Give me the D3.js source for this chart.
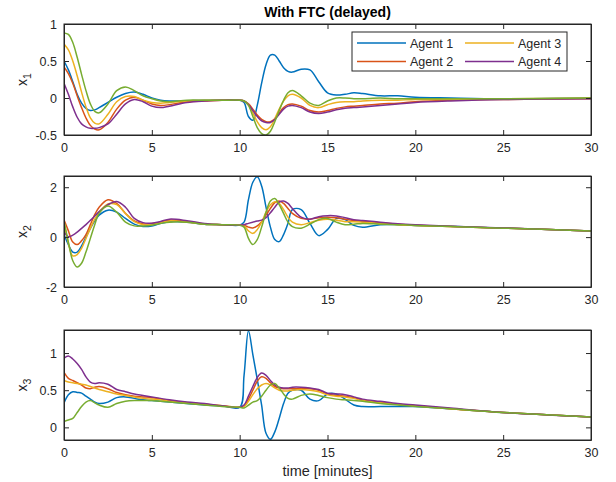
<!DOCTYPE html>
<html>
<head>
<meta charset="UTF-8">
<title>With FTC (delayed)</title>
<script src="https://cdnjs.cloudflare.com/ajax/libs/d3/7.8.5/d3.min.js"></script>
<style>
  body { margin: 0; background: #fff; }
  svg { font-family: "Liberation Sans", Arial, Helvetica, sans-serif; }
</style>
</head>
<body>
<div id="chart"></div>
<script>
// sample times (minutes)
const time = [0, 0.25, 0.5, 0.75, 1, 1.25, 1.5, 1.75, 2, 2.5, 3, 3.5, 4, 4.5, 5, 5.5, 6, 7, 8, 9, 10,
  10.25, 10.5, 10.75, 11, 11.25, 11.5, 11.75, 12, 12.25, 12.5, 12.75, 13, 13.5, 14, 14.5, 15, 15.5, 16, 16.5, 17,
  18, 19, 20, 22, 25, 30];

const agents = ["Agent 1", "Agent 2", "Agent 3", "Agent 4", "Agent 5"];
const legendAgents = ["Agent 1", "Agent 2", "Agent 3", "Agent 4"];

// x1
const x1a1 = [0.5, 0.38, 0.22, 0.05, -0.07, -0.14, -0.17, -0.16, -0.13, -0.06, 0.01, 0.06, 0.08, 0.05, 0.0, -0.03, -0.04, -0.04, -0.03, -0.03, -0.03,
  -0.06, -0.25, -0.3, -0.1, 0.2, 0.45, 0.58, 0.58, 0.5, 0.41, 0.36, 0.35, 0.39, 0.38, 0.22, 0.07, 0.04, 0.05, 0.07, 0.06,
  0.03, 0.03, 0.01, 0.0, -0.01, 0.0];
const x1a2 = [0.42, 0.33, 0.2, 0.03, -0.13, -0.27, -0.37, -0.42, -0.43, -0.33, -0.15, -0.03, 0.01, -0.03, -0.08, -0.1, -0.09, -0.05, -0.04, -0.03, -0.03,
  -0.04, -0.08, -0.15, -0.23, -0.29, -0.32, -0.32, -0.28, -0.2, -0.13, -0.09, -0.08, -0.11, -0.17, -0.19, -0.17, -0.14, -0.12, -0.11, -0.1,
  -0.08, -0.07, -0.05, -0.03, -0.02, -0.01];
const x1a3 = [0.73, 0.65, 0.5, 0.3, 0.08, -0.12, -0.27, -0.34, -0.35, -0.22, -0.05, 0.02, 0.02, -0.03, -0.06, -0.07, -0.06, -0.04, -0.03, -0.03, -0.03,
  -0.04, -0.09, -0.2, -0.32, -0.4, -0.43, -0.39, -0.28, -0.15, -0.04, 0.03, 0.05, 0.0, -0.1, -0.13, -0.09, -0.06, -0.05, -0.05, -0.04,
  -0.03, -0.03, -0.02, -0.02, -0.01, 0.0];
const x1a4 = [0.2, 0.05, -0.12, -0.26, -0.35, -0.39, -0.41, -0.41, -0.4, -0.35, -0.22, -0.08, -0.02, -0.05, -0.11, -0.13, -0.11, -0.06, -0.04, -0.03, -0.03,
  -0.04, -0.09, -0.17, -0.25, -0.31, -0.33, -0.33, -0.29, -0.22, -0.15, -0.11, -0.1, -0.13, -0.19, -0.21, -0.19, -0.16, -0.14, -0.13, -0.12,
  -0.1, -0.08, -0.06, -0.04, -0.02, -0.01];
const x1a5 = [0.88, 0.86, 0.75, 0.55, 0.32, 0.1, -0.08, -0.18, -0.2, -0.08, 0.1, 0.15, 0.1, 0.03, -0.01, -0.04, -0.05, -0.03, -0.03, -0.03, -0.03,
  -0.04, -0.1, -0.25, -0.4, -0.48, -0.5, -0.45, -0.32, -0.17, -0.03, 0.07, 0.1, 0.03, -0.07, -0.1, -0.04, 0.0, 0.0, -0.01, -0.01,
  0.0, -0.01, -0.01, -0.01, -0.01, 0.0];

// x2
const x2a1 = [0.1, -0.3, -0.6, -0.6, -0.35, 0.0, 0.35, 0.65, 0.88, 1.08, 1.0, 0.75, 0.52, 0.43, 0.45, 0.55, 0.62, 0.6, 0.52, 0.5, 0.48,
  0.6, 1.5, 2.2, 2.42, 2.05, 1.2, 0.4, -0.1, -0.18, 0.1, 0.55, 1.1, 1.1, 0.55, 0.06, 0.3, 0.74, 0.7, 0.47, 0.4,
  0.5, 0.5, 0.47, 0.44, 0.36, 0.25];
const x2a2 = [0.7, 0.25, -0.2, -0.3, -0.15, 0.1, 0.5, 0.9, 1.2, 1.5, 1.35, 0.95, 0.65, 0.53, 0.55, 0.6, 0.68, 0.62, 0.53, 0.5, 0.48,
  0.47, 0.4, 0.37, 0.45, 0.62, 0.88, 1.15, 1.38, 1.45, 1.35, 1.15, 0.95, 0.75, 0.72, 0.78, 0.8, 0.78, 0.72, 0.67, 0.64,
  0.58, 0.52, 0.48, 0.43, 0.36, 0.25];
const x2a3 = [0.6, -0.25, -0.75, -0.7, -0.45, -0.05, 0.35, 0.72, 1.0, 1.33, 1.3, 0.95, 0.62, 0.5, 0.5, 0.58, 0.65, 0.6, 0.52, 0.5, 0.48,
  0.45, 0.25, 0.15, 0.3, 0.6, 1.0, 1.3, 1.42, 1.35, 1.1, 0.8, 0.6, 0.5, 0.58, 0.68, 0.72, 0.68, 0.62, 0.62, 0.6,
  0.55, 0.5, 0.47, 0.43, 0.36, 0.25];
const x2a4 = [0.22, 0.02, 0.08, 0.2, 0.35, 0.5, 0.67, 0.85, 1.02, 1.3, 1.43, 1.2, 0.75, 0.58, 0.56, 0.63, 0.72, 0.66, 0.55, 0.5, 0.48,
  0.5, 0.55, 0.6, 0.65, 0.68, 0.78, 0.98, 1.2, 1.4, 1.45, 1.35, 1.15, 0.8, 0.72, 0.82, 0.86, 0.85, 0.78, 0.7, 0.67,
  0.6, 0.54, 0.5, 0.44, 0.37, 0.25];
const x2a5 = [0.65, -0.2, -0.95, -1.2, -1.05, -0.6, -0.05, 0.5, 0.95, 1.25, 1.0, 0.6, 0.45, 0.45, 0.48, 0.55, 0.6, 0.6, 0.52, 0.5, 0.48,
  0.4, -0.05, -0.3, -0.1, 0.4, 1.0, 1.45, 1.55, 1.3, 0.95, 0.6, 0.42, 0.36, 0.52, 0.7, 0.75, 0.6, 0.5, 0.52, 0.55,
  0.52, 0.5, 0.47, 0.43, 0.36, 0.25];

// x3
const x3a1 = [0.33, 0.44, 0.48, 0.47, 0.46, 0.42, 0.38, 0.34, 0.32, 0.34, 0.4, 0.41, 0.39, 0.37, 0.36, 0.35, 0.34, 0.32, 0.3, 0.29, 0.27,
  0.7, 1.3, 0.98, 0.65, 0.3, -0.08, -0.16, -0.06, 0.12, 0.32, 0.46, 0.5, 0.5, 0.38, 0.36, 0.45, 0.45, 0.38, 0.3, 0.28,
  0.28, 0.28, 0.28, 0.25, 0.2, 0.14];
const x3a2 = [0.74, 0.66, 0.63, 0.6, 0.57, 0.53, 0.52, 0.54, 0.55, 0.52, 0.47, 0.44, 0.42, 0.41, 0.4, 0.38, 0.36, 0.33, 0.31, 0.29, 0.27,
  0.29, 0.38, 0.5, 0.62, 0.68, 0.66, 0.6, 0.55, 0.53, 0.52, 0.52, 0.52, 0.52, 0.52, 0.5, 0.45, 0.43, 0.42, 0.4, 0.37,
  0.34, 0.31, 0.29, 0.25, 0.2, 0.14];
const x3a3 = [0.63, 0.61, 0.6, 0.59, 0.58, 0.57, 0.55, 0.53, 0.51, 0.48, 0.45, 0.43, 0.41, 0.39, 0.38, 0.37, 0.35, 0.33, 0.31, 0.29, 0.27,
  0.28, 0.35, 0.44, 0.52, 0.57, 0.59, 0.57, 0.53, 0.5, 0.49, 0.49, 0.5, 0.51, 0.5, 0.48, 0.44, 0.42, 0.41, 0.39, 0.36,
  0.33, 0.31, 0.29, 0.25, 0.2, 0.14];
const x3a4 = [0.93, 0.96, 0.92, 0.86, 0.78, 0.68, 0.61, 0.59, 0.6, 0.58, 0.51, 0.48, 0.45, 0.43, 0.41, 0.39, 0.37, 0.34, 0.32, 0.29, 0.27,
  0.3, 0.42, 0.55, 0.67, 0.73, 0.7, 0.63, 0.57, 0.54, 0.53, 0.53, 0.54, 0.54, 0.53, 0.51, 0.46, 0.45, 0.44, 0.41, 0.38,
  0.35, 0.32, 0.3, 0.26, 0.2, 0.14];
const x3a5 = [0.08, 0.1, 0.12, 0.2, 0.28, 0.34, 0.36, 0.33, 0.3, 0.27, 0.32, 0.35, 0.36, 0.36, 0.36, 0.35, 0.34, 0.32, 0.3, 0.28, 0.27,
  0.26, 0.3, 0.34, 0.36, 0.42, 0.5, 0.57, 0.59, 0.53, 0.45, 0.39, 0.38, 0.43, 0.45, 0.43, 0.4, 0.38, 0.37, 0.36, 0.35,
  0.32, 0.3, 0.28, 0.25, 0.2, 0.14];

const xTicks = [0, 5, 10, 15, 20, 25, 30];
const panels = [
  { label: "1", series: [x1a1, x1a2, x1a3, x1a4, x1a5], yDomain: [-0.5, 1], yTicks: [-0.5, 0, 0.5, 1], top: 24, bottom: 135 },
  { label: "2", series: [x2a1, x2a2, x2a3, x2a4, x2a5], yDomain: [-2, 2.45], yTicks: [-2, 0, 2], top: 176, bottom: 287 },
  { label: "3", series: [x3a1, x3a2, x3a3, x3a4, x3a5], yDomain: [-0.17, 1.31], yTicks: [0, 0.5, 1], top: 330, bottom: 440 }
];

const colors = ["#0072BD", "#D95319", "#EDB120", "#7E2F8E", "#77AC30"];
const W = 616, H = 482;
const left = 64, right = 591;
const axisColor = "#262626";

const svg = d3.select("#chart").append("svg")
  .attr("width", W).attr("height", H);

const x = d3.scaleLinear().domain([0, 30]).range([left, right]);
const fmt = d => String(d);

panels.forEach((p, pi) => {
  const y = d3.scaleLinear().domain(p.yDomain).range([p.bottom, p.top]);
  const g = svg.append("g");

  g.append("clipPath").attr("id", "clip" + pi)
    .append("rect").attr("x", left).attr("y", p.top)
    .attr("width", right - left).attr("height", p.bottom - p.top);

  const line = d3.line()
    .x((d, i) => x(time[i]))
    .y(d => y(d))
    .curve(d3.curveCatmullRom.alpha(0.5));

  g.append("g").attr("clip-path", "url(#clip" + pi + ")")
    .selectAll("path").data(p.series).join("path")
    .attr("d", line)
    .attr("fill", "none")
    .attr("stroke", (d, i) => colors[i])
    .attr("stroke-width", 1.5);

  // axes, ticks inside like MATLAB
  const tl = 5;
  g.append("g").attr("transform", `translate(0,${p.bottom})`)
    .call(d3.axisBottom(x).tickValues(xTicks).tickFormat(fmt).tickSizeInner(-tl).tickSizeOuter(0).tickPadding(8));
  g.append("g").attr("transform", `translate(0,${p.top})`)
    .call(d3.axisTop(x).tickValues(xTicks).tickFormat("").tickSizeInner(-tl).tickSizeOuter(0));
  g.append("g").attr("transform", `translate(${left},0)`)
    .call(d3.axisLeft(y).tickValues(p.yTicks).tickFormat(fmt).tickSizeInner(-tl).tickSizeOuter(0).tickPadding(7));
  g.append("g").attr("transform", `translate(${right},0)`)
    .call(d3.axisRight(y).tickValues(p.yTicks).tickFormat("").tickSizeInner(-tl).tickSizeOuter(0));

  g.selectAll(".domain").attr("stroke", axisColor);
  g.selectAll(".tick line").attr("stroke", axisColor);
  g.selectAll(".tick text").attr("fill", axisColor).style("font-size", "12.5px");

  g.append("rect").attr("x", left).attr("y", p.top)
    .attr("width", right - left).attr("height", p.bottom - p.top)
    .attr("fill", "none").attr("stroke", axisColor).attr("stroke-width", 1);

  const yl = g.append("text")
    .attr("transform", `translate(27,${(p.top + p.bottom) / 2}) rotate(-90)`)
    .attr("text-anchor", "middle")
    .attr("fill", axisColor)
    .style("font-size", "14px");
  yl.append("tspan").text("x");
  yl.append("tspan").attr("dy", 4).style("font-size", "10.5px").text(p.label);
});

svg.append("text")
  .attr("x", (left + right) / 2).attr("y", 17)
  .attr("text-anchor", "middle")
  .attr("font-weight", "bold")
  .attr("fill", "#000")
  .style("font-size", "14px")
  .text("With FTC (delayed)");

svg.append("text")
  .attr("x", (left + right) / 2).attr("y", 476)
  .attr("text-anchor", "middle")
  .attr("fill", axisColor)
  .style("font-size", "14.5px")
  .text("time [minutes]");

// legend
const lg = svg.append("g").attr("transform", "translate(352,32)");
lg.append("rect").attr("width", 215).attr("height", 39)
  .attr("fill", "#fff").attr("stroke", axisColor).attr("stroke-width", 1);
legendAgents.forEach((name, i) => {
  const col = Math.floor(i / 2), row = i % 2;
  const gx = 5 + col * 108, gy = 11 + row * 18.5;
  lg.append("line").attr("x1", gx).attr("x2", gx + 49).attr("y1", gy).attr("y2", gy)
    .attr("stroke", colors[agents.indexOf(name)]).attr("stroke-width", 1.5);
  lg.append("text").attr("x", gx + 53).attr("y", gy + 4.5)
    .attr("fill", axisColor).style("font-size", "12.5px").text(name);
});
</script>
</body>
</html>
